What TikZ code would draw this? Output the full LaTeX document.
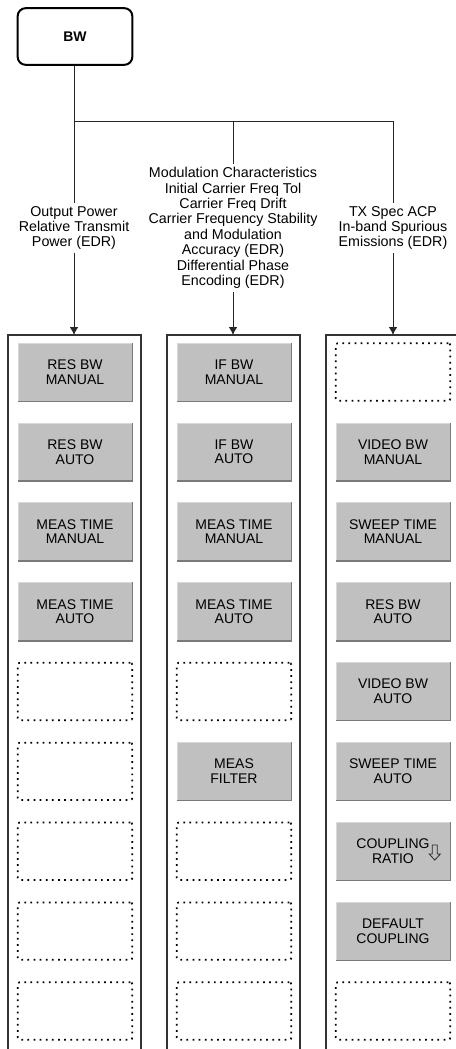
\documentclass[tikz,border=0pt]{standalone}
\usepackage{fontspec}
\setmainfont{Liberation Sans}
\usetikzlibrary{arrows.meta}
\definecolor{keygray}{HTML}{C0C0C0}
\definecolor{keyshade}{HTML}{7A7A7A}
\newcommand{\keyfont}{\fontsize{10.5}{11}\selectfont}

\begin{document}
\begin{tikzpicture}[x=7.5pt,y=7.5pt]
\tikzset{
  menu/.style={draw, line width=1.5pt, rounded corners=6pt, minimum width=86pt, minimum height=42.5pt, font=\bfseries\keyfont},
  key/.style={fill=keygray, draw=keygray!60!white, line width=0.4pt, minimum width=85.5pt, minimum height=43.5pt, inner sep=0pt, align=center, font=\keyfont},
  blank/.style={draw, line width=1.3pt, dash pattern=on 1.3pt off 3.3pt, rounded corners=1.5pt, minimum width=86pt, minimum height=43pt},
  shade/.style={draw=keyshade, line width=1pt},
  meastext/.style={fill=white, align=center, inner sep=2.5pt, font=\fontsize{10.7}{11.6}\selectfont},
  arr/.style={-{Latex[length=6pt,width=6.5pt]}, line width=0.7pt, draw=black!85},
  panel/.style={line width=0.9pt, draw=black!80}
}
\useasboundingbox (0,0) rectangle (45.6,-104.9);
\node[menu] (bw) at (7.5,-3.65) {BW};
\coordinate (j1) at (7.4,-12.1);
\coordinate (j2) at (23.3,-12.1);
\coordinate (j3) at (39.3,-12.1);
\coordinate (p1) at (7.4,-33.5);
\coordinate (p2) at (23.3,-33.5);
\coordinate (p3) at (39.3,-33.5);
\draw [line width=0.7pt, black!85] (bw.south -| j1) -- (j1) -- (j3);
\draw [arr] (j1) -- node[meastext] {Output Power\\Relative Transmit\\Power (EDR)} (p1);
\draw [arr] (j2) -- node[meastext] {Modulation Characteristics\\Initial Carrier Freq Tol\\Carrier Freq Drift\\Carrier Frequency Stability\\and Modulation\\Accuracy (EDR)\\Differential Phase\\Encoding (EDR)} (p2);
\draw [arr] (j3) -- node[meastext] {TX Spec ACP\\In-band Spurious\\Emissions (EDR)} (p3);
\draw [panel] (0.8,-105) -- (0.8,-33.5) -- (14.1,-33.5) -- (14.1,-105);
\draw [panel] (16.7,-105) -- (16.7,-33.5) -- (30.0,-33.5) -- (30.0,-105);
\draw [panel] (32.6,-105) -- (32.6,-33.5) -- (45.6,-33.5);
\foreach \t [count=\i] in {{RES BW\\MANUAL},{RES BW\\AUTO},{MEAS TIME\\MANUAL},{MEAS TIME\\AUTO}}
  \node[key] (a\i) at (7.5,{-37.2-7.9875*(\i-1)}) {\t};
\foreach \i in {5,...,9}
  \node[blank] (a\i) at (7.5,{-37.2-7.9875*(\i-1)}) {};
\foreach \t/\i in {{IF BW\\MANUAL}/1,{IF BW\\AUTO}/2,{MEAS TIME\\MANUAL}/3,{MEAS TIME\\AUTO}/4,{MEAS\\FILTER}/6}
  \node[key] (b\i) at (23.4,{-37.2-7.9875*(\i-1)}) {\t};
\foreach \i in {5,7,8,9}
  \node[blank] (b\i) at (23.4,{-37.2-7.9875*(\i-1)}) {};
\foreach \t [count=\i from 2] in {{VIDEO BW\\MANUAL},{SWEEP TIME\\MANUAL},{RES BW\\AUTO},{VIDEO BW\\AUTO},{SWEEP TIME\\AUTO},{COUPLING\\RATIO},{DEFAULT\\COUPLING}}
  \node[key] (c\i) at (39.3,{-37.2-7.9875*(\i-1)}) {\t};
\foreach \i in {1,9}
  \node[blank] (c\i) at (39.3,{-37.2-7.9875*(\i-1)}) {};
\foreach \k in {a1,a2,a3,a4,b1,b2,b3,b4,b6,c2,c3,c4,c5,c6,c7,c8}
  \draw [shade] (\k.south west) -- (\k.south east) -- (\k.north east);
\coordinate (ratio) at ([xshift=-11.6pt,yshift=-1pt]c7.east);
\begin{scope}[shift={(ratio)}]
\draw [line width=0.6pt, black!85] (-0.25,0.75) -- (-0.25,-0.15) -- (-0.55,-0.15) -- (0,-0.75) -- (0.55,-0.15) -- (0.25,-0.15) -- (0.25,0.75) -- cycle;
\end{scope}
\end{tikzpicture}
\end{document}
